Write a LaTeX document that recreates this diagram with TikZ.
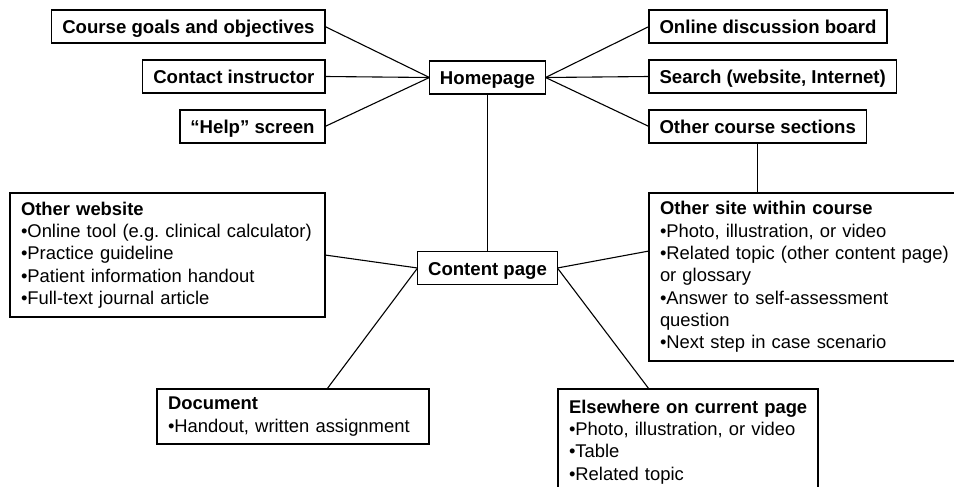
\documentclass[tikz,border=0pt]{standalone}
\usepackage{fontspec}
\setmainfont{Liberation Sans}
\begin{document}
\begin{tikzpicture}[x=1pt, y=-1pt,
    box/.style={draw, line width=1.2pt, font=\fontsize{18.6}{22.3}\selectfont\bfseries,
        inner xsep=10.5pt, inner ysep=0pt, text height=14pt, text depth=0pt,
        minimum height=33pt, outer sep=0pt},
    listbox/.style={draw, line width=1.2pt, font=\fontsize{18.4}{22.3}\selectfont\frenchspacing,
        align=left, inner xsep=11pt, inner ysep=3pt, outer sep=0pt, anchor=north west},
    link/.style={line width=1.1pt}]
    \useasboundingbox (0,0) rectangle (954,487);
    % top level
    \node[box] (home) at (487.5,77.5) {Homepage};
    \node[box, anchor=east] (goals) at (325,26.5) {Course goals and objectives};
    \node[box, anchor=east] (contact) at (325,76.5) {Contact instructor};
    \node[box, anchor=east] (help) at (325,126.5) {``Help'' screen};
    \node[box, anchor=west] (board) at (649,26.5) {Online discussion board};
    \node[box, anchor=west] (search) at (649,76.5) {Search (website, Internet)};
    \node[box, anchor=west] (sections) at (649,126.5) {Other course sections};
    % content level
    \node[box] (content) at (487.5,268) {Content page};
    \node[listbox, text width=293pt, minimum height=124pt] (web) at (10,193)
        {\textbf{Other website}\\\textbullet\mbox{Online tool (e.g. clinical calculator)}\\\textbullet Practice guideline\\\textbullet Patient information handout\\\textbullet Full-text journal article};
    \node[listbox, text width=300pt, minimum height=168pt] (site) at (649,193)
        {\textbf{Other site within course}\\\textbullet Photo, illustration, or video\\\textbullet Related topic (other content page)\\or glossary\\\textbullet Answer to self-assessment\\question\\\textbullet Next step in case scenario};
    \node[listbox, text width=250pt, minimum height=55pt] (doc) at (157,389)
        {\textbf{Document}\\\textbullet Handout, written assignment};
    \node[listbox, text width=238pt, minimum height=106pt] (elsewhere) at (558,389)
        {\textbf{\mbox{Elsewhere on current page}}\\\textbullet Photo, illustration, or video\\\textbullet Table\\\textbullet Related topic};
    % links
    \draw[link] (goals.east) -- (home.west);
    \draw[link] (contact.east) -- (home.west);
    \draw[link] (help.east) -- (home.west);
    \draw[link] (home.east) -- (board.west);
    \draw[link] (home.east) -- (search.west);
    \draw[link] (home.east) -- (sections.west);
    \draw[link] (home.south) -- (content.north);
    \draw[link] (sections.south) -- (site.north west -| sections.south);
    \draw[link] (web.east) -- (content.west);
    \draw[link] (content.east) -- ([yshift=-58pt]site.north west);
    \draw[link] (content.west) -- ([xshift=170pt]doc.north west);
    \draw[link] (content.east) -- ([xshift=91pt]elsewhere.north west);
\end{tikzpicture}
\end{document}
